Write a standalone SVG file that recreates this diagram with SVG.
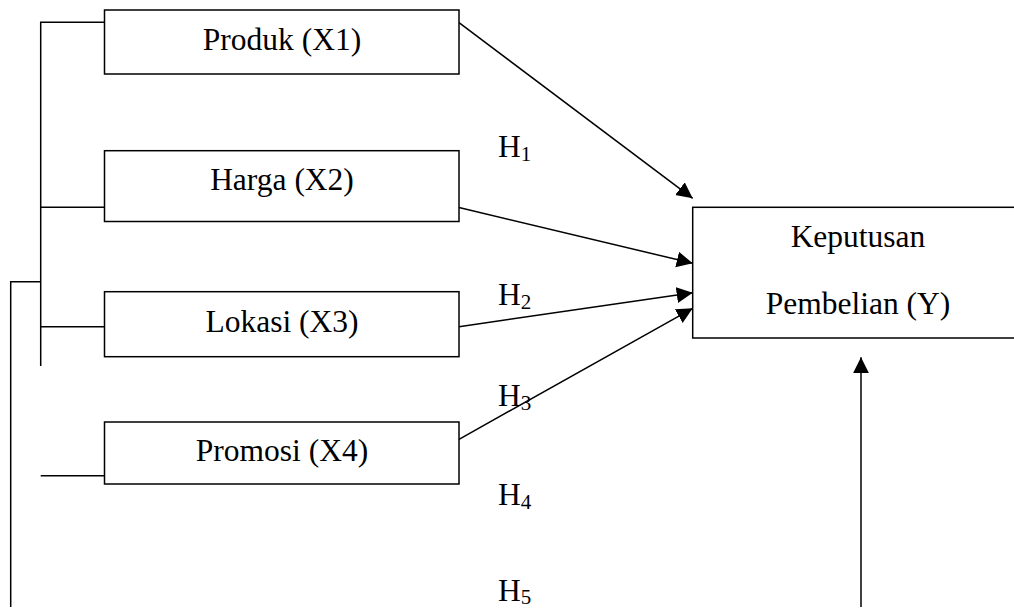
<svg xmlns="http://www.w3.org/2000/svg" width="1014" height="610" viewBox="0 0 1014 610">
<style>
.box{fill:#fff;stroke:#000;stroke-width:1.5}
.ln{fill:none;stroke:#000;stroke-width:1.5}
.t{font-family:"Liberation Serif","Times New Roman",serif;font-size:31.5px;fill:#000;text-anchor:middle}
.h{font-family:"Liberation Serif","Times New Roman",serif;font-size:31.5px;fill:#000}
.sub{font-size:21px}
</style>
<defs>
<marker id="arr" markerUnits="userSpaceOnUse" markerWidth="17" markerHeight="17" refX="16" refY="8" orient="auto">
<path d="M0,0 L16,8 L0,16 Z" fill="#000"/>
</marker>
</defs>
<rect width="1014" height="610" fill="#fff"/>
<g id="connectors">
<path class="ln" d="M40.7,366 V22.3 H104.5"/>
<path class="ln" d="M40.7,207.3 H104.5"/>
<path class="ln" d="M40.7,326.7 H104.5"/>
<path class="ln" d="M40.7,475.7 H104.5"/>
<path class="ln" d="M10.7,607 V281.7 H40.7"/>
<line class="ln" x1="459" y1="22.7" x2="692.7" y2="198.3" marker-end="url(#arr)"/>
<line class="ln" x1="459" y1="207.5" x2="692.7" y2="263.3" marker-end="url(#arr)"/>
<line class="ln" x1="459" y1="326.7" x2="692.7" y2="292.7" marker-end="url(#arr)"/>
<line class="ln" x1="459" y1="439.3" x2="692.7" y2="308.3" marker-end="url(#arr)"/>
<line class="ln" x1="861" y1="607" x2="861" y2="357.3" marker-end="url(#arr)"/>
</g>
<g id="produk">
<rect class="box" x="104.5" y="10" width="354.5" height="64"/>
<text class="t" x="282" y="49.5">Produk (X1)</text>
</g>
<g id="harga">
<rect class="box" x="104.5" y="150.7" width="354.5" height="70.8"/>
<text class="t" x="282" y="190">Harga (X2)</text>
</g>
<g id="lokasi">
<rect class="box" x="104.5" y="291.7" width="354.5" height="65"/>
<text class="t" x="282" y="331.7">Lokasi (X3)</text>
</g>
<g id="promosi">
<rect class="box" x="104.5" y="422" width="354.5" height="62"/>
<text class="t" x="282" y="460.7">Promosi (X4)</text>
</g>
<g id="keputusan">
<rect class="box" x="692.7" y="207.3" width="330" height="130.7"/>
<text class="t" x="858" y="247.3">Keputusan</text>
<text class="t" x="858" y="314">Pembelian (Y)</text>
</g>
<g id="labels">
<text class="h" x="498" y="157">H<tspan class="sub" dy="4">1</tspan></text>
<text class="h" x="498" y="305">H<tspan class="sub" dy="4">2</tspan></text>
<text class="h" x="498" y="406">H<tspan class="sub" dy="4">3</tspan></text>
<text class="h" x="498" y="505">H<tspan class="sub" dy="4">4</tspan></text>
<text class="h" x="498" y="601">H<tspan class="sub" dy="3">5</tspan></text>
</g>
</svg>
